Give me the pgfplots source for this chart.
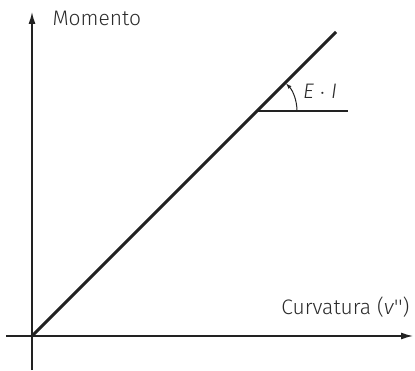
\documentclass[border=0pt]{standalone}
\usepackage{fontspec}
\setmainfont{Fira Sans}[UprightFont=* Light, ItalicFont=* Light Italic]
\usepackage{pgfplots}
\pgfplotsset{compat=1.18}
\usetikzlibrary{arrows.meta}
\definecolor{txt}{HTML}{2a2a2a}
\definecolor{ln}{HTML}{222222}
\begin{document}
\begin{tikzpicture}
\begin{axis}[x=1bp,y=1bp,xmin=-32,xmax=383,ymin=-35,ymax=336,
  hide axis, clip=false, scale only axis]
\path (axis cs:-32,-35) rectangle (axis cs:383,336);
% axes
\draw[ln, line width=1.3bp, -{Latex[length=12bp,width=7bp]}] (axis cs:-26,0) -- (axis cs:381,0);
\draw[ln, line width=1.3bp, -{Latex[length=12bp,width=7bp]}] (axis cs:0,-34) -- (axis cs:0,324);
% data
\addplot[ln, line width=3bp, no markers] coordinates {(0,0) (304,304)};
\addplot[ln, line width=1.4bp, no markers] coordinates {(226,225) (316,225)};
\draw[ln, line width=1bp, -{Latex[length=6bp,width=4bp]}] (axis cs:265,225) arc[start angle=0, end angle=44, radius=40bp];
\node[txt, font=\fontsize{21bp}{25bp}\selectfont\itshape] at (axis cs:288,245) {E $\cdot$ I};
\node[txt, font=\fontsize{21bp}{25bp}\selectfont, anchor=base west] at (axis cs:17,311) {Momento};
\node[txt, font=\fontsize{21bp}{25bp}\selectfont, anchor=base east] at (axis cs:381,22) {Curvatura (\textit{v}\textquotesingle\textquotesingle)};
\end{axis}
\end{tikzpicture}
\end{document}
